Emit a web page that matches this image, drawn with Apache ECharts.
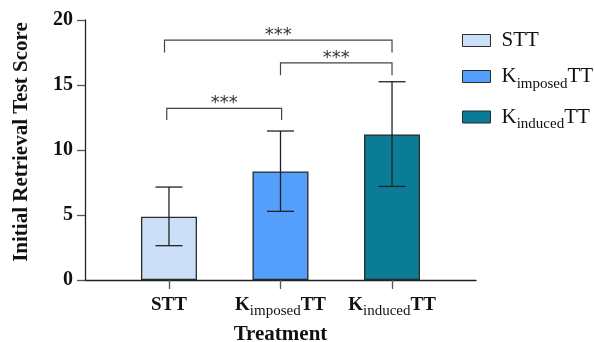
<!DOCTYPE html>
<html>
<head>
<meta charset="utf-8">
<script src="https://cdn.jsdelivr.net/npm/echarts@6/dist/echarts.min.js"></script>
<style>
    html, body { margin: 0; padding: 0; background: #fff; }
    #chart { width: 594px; height: 342px; }
</style>
</head>
<body>
<div id="chart"></div>
<script>
    // data
    var categories = ['STT', 'KimposedTT', 'KinducedTT'];
    var meanScore = [4.87, 8.35, 11.2];
    var errLow = [2.64, 5.28, 7.2];
    var errHigh = [7.15, 11.46, 15.25];
    var barColors = ['#cbe0f8', '#539ffb', '#0b7c95'];
    var yTicks = [0, 5, 10, 15, 20];
    // brackets: [from, to, level, leg bottom]
    var brackets = [
        [-0.04, 2, 18.45, 17.5],
        [1, 2, 16.7, 15.75],
        [-0.02, 1.01, 13.2, 12.3]
    ];
    var bracketText = ['***', '***', '***'];

    var labelRich = {
        STT: '{m|STT}',
        KimposedTT: '{m|K}{s|imposed}{m|TT}',
        KinducedTT: '{m|K}{s|induced}{m|TT}'
    };

    var chart = echarts.init(document.getElementById('chart'));

    var barSeries = categories.map(function (name, i) {
        return {
            name: name,
            type: 'bar',
            barWidth: 56,
            barGap: '-100%',
            itemStyle: {
                color: barColors[i],
                borderColor: '#2b2b2b',
                borderWidth: 1.3
            },
            data: [[i, meanScore[i]]],
            z: 2
        };
    });

    var errData = categories.map(function (c, i) {
        return [i, errLow[i], errHigh[i]];
    });

    var option = {
        animation: false,
        grid: {left: 85, right: 118, top: 20, bottom: 62, outerBoundsMode: 'none'},
        legend: {
            data: categories,
            orient: 'vertical',
            left: 457,
            top: 25,
            itemWidth: 28,
            itemHeight: 12,
            itemGap: 15,
            icon: 'rect',
            itemStyle: {borderColor: '#2b2b2b', borderWidth: 1},
            formatter: function (name) {
                return labelRich[name];
            },
            textStyle: {
                padding: [0, 0, 0, 6],
                rich: {
                    m: {fontFamily: 'Liberation Serif', fontSize: 21, color: '#111', lineHeight: 24, verticalAlign: 'middle'},
                    s: {fontFamily: 'Liberation Serif', fontSize: 15, color: '#111', lineHeight: 24, verticalAlign: 'bottom', padding: [0, 0, -3, 0]}
                }
            }
        },
        xAxis: {
            type: 'value',
            min: -0.753,
            max: 2.753,
            name: 'Treatment',
            nameLocation: 'middle',
            nameGap: 40,
            nameTextStyle: {fontFamily: 'Liberation Serif', fontWeight: 'bold', fontSize: 21, color: '#111'},
            splitLine: {show: false},
            axisLine: {onZero: false, lineStyle: {color: '#222', width: 1.3}},
            axisTick: {show: true, customValues: [0, 1, 2], length: 9, lineStyle: {color: '#555', width: 1.3}},
            axisLabel: {
                customValues: [0, 1, 2],
                margin: 14,
                formatter: function (v) {
                    return labelRich[categories[Math.round(v)]];
                },
                rich: {
                    m: {fontFamily: 'Liberation Serif', fontWeight: 'bold', fontSize: 19, color: '#111', lineHeight: 22, verticalAlign: 'middle'},
                    s: {fontFamily: 'Liberation Serif', fontSize: 15, color: '#111', lineHeight: 22, verticalAlign: 'bottom', padding: [0, 0, -3, 0]}
                }
            }
        },
        yAxis: {
            type: 'value',
            min: 0,
            max: 20,
            interval: 5,
            name: 'Initial Retrieval Test Score',
            nameLocation: 'middle',
            nameGap: 53,
            nameTextStyle: {fontFamily: 'Liberation Serif', fontWeight: 'bold', fontSize: 21, color: '#111', padding: [0, 0, 0, 16]},
            splitLine: {show: false},
            axisLine: {show: true, onZero: false, lineStyle: {color: '#222', width: 1.3}},
            axisTick: {show: true, length: 8, lineStyle: {color: '#555', width: 1.3}},
            axisLabel: {
                margin: 12,
                fontFamily: 'Liberation Serif',
                fontWeight: 'bold',
                fontSize: 20,
                color: '#111',
                formatter: function (v) {
                    return yTicks.indexOf(v) >= 0 ? String(v) : '';
                }
            }
        },
        series: barSeries.concat([
            {
                name: 'error',
                type: 'custom',
                z: 5,
                data: errData,
                renderItem: function (params, api) {
                    var x = api.value(0);
                    var lo = api.coord([x, api.value(1)]);
                    var hi = api.coord([x, api.value(2)]);
                    var hw = 13.5;
                    var style = {stroke: '#222', lineWidth: 1.3};
                    return {
                        type: 'group',
                        children: [
                            {type: 'line', shape: {x1: lo[0], y1: lo[1], x2: hi[0], y2: hi[1]}, style: style},
                            {type: 'line', shape: {x1: lo[0] - hw, y1: lo[1], x2: lo[0] + hw, y2: lo[1]}, style: style},
                            {type: 'line', shape: {x1: hi[0] - hw, y1: hi[1], x2: hi[0] + hw, y2: hi[1]}, style: style}
                        ]
                    };
                }
            },
            {
                name: 'sig',
                type: 'custom',
                z: 5,
                data: brackets,
                renderItem: function (params, api) {
                    var a = api.coord([api.value(0), api.value(2)]);
                    var b = api.coord([api.value(1), api.value(2)]);
                    var legY = api.coord([0, api.value(3)])[1];
                    var style = {stroke: '#444', lineWidth: 1.2, fill: null};
                    return {
                        type: 'group',
                        children: [
                            {type: 'polyline', shape: {points: [[a[0], legY], a, b, [b[0], legY]]}, style: style},
                            {
                                type: 'text',
                                x: (a[0] + b[0]) / 2,
                                y: a[1] - 5,
                                style: {
                                    text: bracketText[params.dataIndex],
                                    fontFamily: 'DejaVu Sans',
                                    fontSize: 18,
                                    fill: '#333',
                                    align: 'center',
                                    verticalAlign: 'middle'
                                }
                            }
                        ]
                    };
                }
            }
        ])
    };

    chart.setOption(option);
</script>
</body>
</html>
